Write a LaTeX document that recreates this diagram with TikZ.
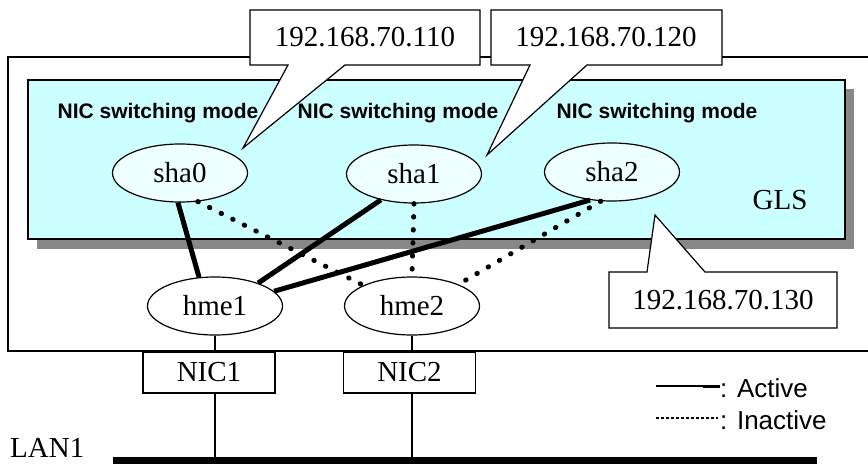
\documentclass[tikz,border=0pt]{standalone}
\usepackage{fontspec}
\setmainfont{Liberation Serif}
\newfontfamily\labsans{Liberation Sans}
\usetikzlibrary{shapes.geometric}
\definecolor{glscyan}{HTML}{CCFFFF}
\definecolor{shacyan}{HTML}{EEFFFF}
\definecolor{shadowgray}{HTML}{888888}
\tikzset{
  thinline/.style={line width=1.2pt},
  ifnode/.style={ellipse, draw, line width=1.2pt, minimum width=135pt, minimum height=58pt, inner sep=0pt, font=\fontsize{29}{32}\selectfont},
  shanode/.style={ifnode, fill=shacyan},
  hmenode/.style={ifnode, fill=white},
  nicbox/.style={draw, line width=1.2pt, fill=white, minimum width=132pt, minimum height=41pt, inner sep=0pt, font=\fontsize{29}{32}\selectfont},
  modelabel/.style={font=\labsans\bfseries\fontsize{21}{24}\selectfont, inner sep=0pt},
  iplabel/.style={font=\fontsize{29}{32}\selectfont, inner sep=0pt},
  activeline/.style={line width=5pt},
  inactiveline/.style={line width=5pt, line cap=round, dash pattern=on 0.5pt off 12.5pt},
  callout/.style={draw, fill=white, line width=1.2pt, line join=miter},
}
\begin{document}
\begin{tikzpicture}[x=1pt,y=-1pt]
\useasboundingbox (0,0) rectangle (868,466);
% outer box
\draw[thinline] (868,57) -- (8,57) -- (8,351) -- (868,351);
% shadow and GLS box
\fill[shadowgray] (37,89) rectangle (854,249);
\draw[thinline, fill=glscyan] (28,80) rectangle (845,239);
% callouts
\draw[callout] (250,10) -- (480,10) -- (480,65) -- (345,65) -- (243,148) -- (288,65) -- (250,65) -- cycle;
\node[iplabel] (ip1) at (365,37) {192.168.70.110};
\draw[callout] (491,10) -- (722,10) -- (722,65) -- (587,65) -- (487,155) -- (530,65) -- (491,65) -- cycle;
\node[iplabel] (ip2) at (606,37) {192.168.70.120};
\draw[callout] (609,272) -- (647,272) -- (655,215) -- (705,272) -- (837,272) -- (837,328) -- (609,328) -- cycle;
\node[iplabel] (ip3) at (723,300) {192.168.70.130};
% mode labels
\node[modelabel] (m0) at (158,113) {NIC switching mode};
\node[modelabel] (m1) at (398,113) {NIC switching mode};
\node[modelabel] (m2) at (657,113) {NIC switching mode};
\node[iplabel] (gls) at (780,200) {GLS};
% NICs
\node[nicbox] (nic1) at (209,372.5) {NIC1};
\node[nicbox] (nic2) at (409.5,372.5) {NIC2};
% LAN
\coordinate (lanL) at (113,460);
\coordinate (lanR) at (817,460);
\node[iplabel, anchor=west] (lan) at (10,448) {LAN1};
% interface nodes
\node[shanode] (sha0) at (180,173) {sha0};
\node[shanode] (sha1) at (414,174) {sha1};
\node[shanode] (sha2) at (612,172) {sha2};
\node[hmenode] (hme1) at (215,306) {hme1};
\node[hmenode] (hme2) at (412,306) {hme2};
% connectors
\draw[activeline] (sha0.-94) -- (hme1.119);
\draw[activeline] (sha1.-142) -- (hme1.28);
\draw[activeline] (sha2.-128) -- (hme1.14);
\draw[inactiveline] (sha0.-58) -- (hme2.157);
\draw[inactiveline] (sha1.south) -- (hme2.north);
\draw[inactiveline] (sha2.-111) -- (hme2.25);
% vertical links
\draw[thinline] (hme1.south) -- (hme1.south |- nic1.north);
\draw[thinline] (hme1.south |- nic1.south) -- (hme1.south |- lanL);
\draw[thinline] (hme2.south) -- (hme2.south |- nic2.north);
\draw[thinline] (hme2.south |- nic2.south) -- (hme2.south |- lanL);
\draw[line width=7pt] (lanL) -- (lanR);
% legend
\coordinate (la1) at (656,386);
\coordinate (la2) at (703,386);
\coordinate (la3) at (720,386);
\coordinate (li1) at (656,418);
\coordinate (li2) at (718,418);
\draw[thinline] (la1) -- (la2);
\draw[line width=3pt] (la2) -- (la3);
\draw[line width=1.2pt, dash pattern=on 3pt off 2pt] (li1) -- (li2);
\node[anchor=west, inner sep=0pt, font=\labsans\fontsize{26}{28}\selectfont] (act) at (720,388) {: Active};
\node[anchor=west, inner sep=0pt, font=\labsans\fontsize{26}{28}\selectfont] (inact) at (720,420) {: Inactive};
\end{tikzpicture}
\end{document}
